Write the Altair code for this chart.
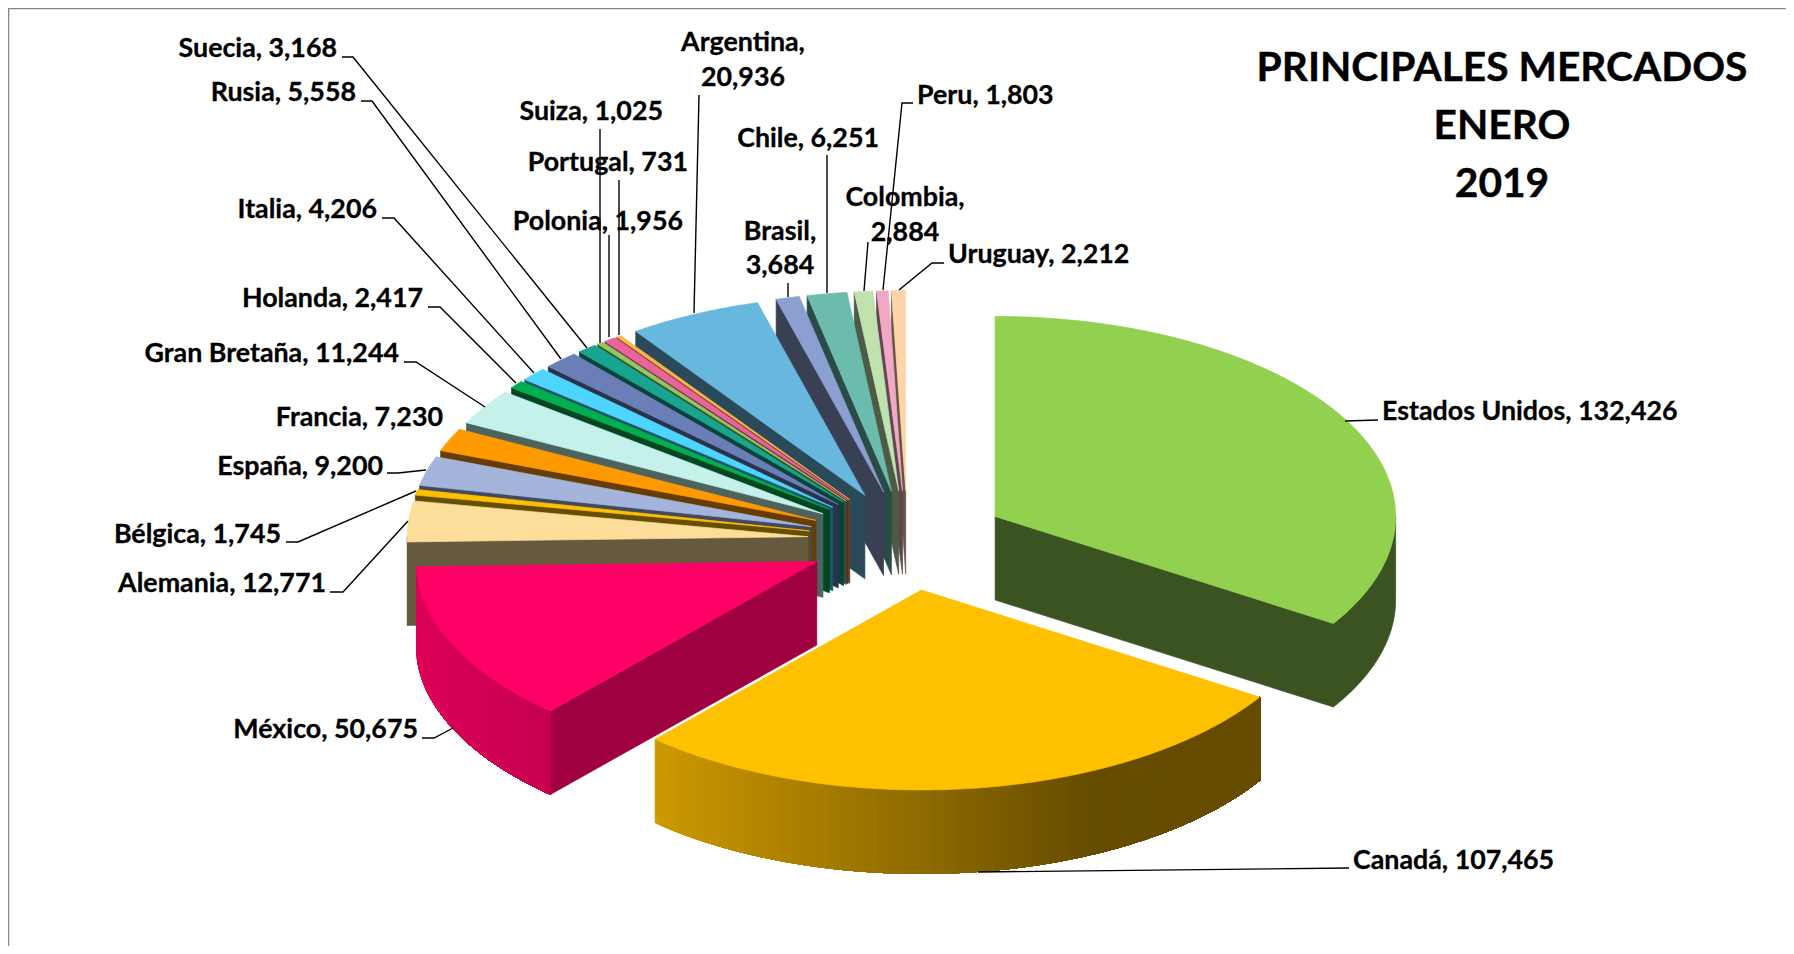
import math
import altair as alt
import pandas as pd

countries = ["Estados Unidos", "Canadá", "México", "Alemania", "Bélgica", "España", "Francia",
             "Gran Bretaña", "Holanda", "Italia", "Rusia", "Suecia", "Suiza", "Polonia",
             "Portugal", "Argentina", "Brasil", "Chile", "Colombia", "Peru", "Uruguay"]
values = [132426, 107465, 50675, 12771, 1745, 9200, 7230, 11244, 2417, 4206, 5558, 3168,
          1025, 1956, 731, 20936, 3684, 6251, 2884, 1803, 2212]
top_colors = ["#92D050", "#FFC000", "#FF0066", "#FCDE9A", "#FFC000", "#A5B4DB", "#FF9900",
              "#C4F2EB", "#00B050", "#4DD5FF", "#6A7FB8", "#17A590", "#92C864", "#E9649A",
              "#FFB14D", "#68B7DE", "#8C9FD1", "#6CBCAE", "#C0E2AE", "#EFA9C4", "#FDD5A8"]
wall_colors = ["#3B5321", "#664C00", "#9E0040", "#665A3E", "#664D00", "#424A60", "#663D00",
               "#4E625E", "#004620", "#1F5566", "#2A3349", "#09423A", "#3A5028", "#5D283D",
               "#664620", "#2A4A5A", "#3A4054", "#2B4B46", "#4D5A46", "#60444F", "#655544"]
# outer-wall gradients: (left colour, right colour, left x, right x)
wall_gradients = {"Canadá": ("#CC9900", "#664C00", 655, 1090),
                  "México": ("#DC0058", "#C60050", 416, 550)}

# label text lines: (text, align, x, baseline y)
labels = [
    ("Suecia, 3,168", "right", 337, 57), ("Rusia, 5,558", "right", 356, 101),
    ("Italia, 4,206", "right", 377, 218), ("Holanda, 2,417", "right", 423, 307),
    ("Gran Bretaña, 11,244", "right", 399, 362), ("Francia, 7,230", "right", 443, 426),
    ("España, 9,200", "right", 383, 475), ("Bélgica, 1,745", "right", 281, 543),
    ("Alemania, 12,771", "right", 326, 592), ("México, 50,675", "right", 418, 738),
    ("Canadá, 107,465", "left", 1353, 869), ("Estados Unidos, 132,426", "left", 1382, 420),
    ("Argentina,", "center", 743, 51), ("20,936", "center", 743, 86),
    ("Suiza, 1,025", "right", 663, 120), ("Portugal, 731", "right", 688, 171),
    ("Polonia, 1,956", "right", 683, 230), ("Chile, 6,251", "right", 879, 147),
    ("Brasil,", "center", 780, 240), ("3,684", "center", 780, 274),
    ("Colombia,", "center", 905, 206), ("2,884", "center", 905, 241),
    ("Peru, 1,803", "left", 917, 104), ("Uruguay, 2,212", "left", 948, 263),
]
title_lines = [("PRINCIPALES MERCADOS", 81), ("ENERO", 139), ("2019", 197)]
title_x = 1502

# leader polylines from each label to its slice
leaders = {
    "Suecia": [(342, 57), (353, 57), (587, 348)],
    "Rusia": [(361, 101), (372, 101), (561, 359)],
    "Italia": [(382, 218), (394, 218), (534, 373)],
    "Holanda": [(428, 307), (440, 307), (516, 383)],
    "Gran Bretaña": [(404, 362), (416, 362), (485, 407)],
    "España": [(387, 473), (398, 473), (426, 470)],
    "Bélgica": [(286, 542), (298, 542), (416, 491)],
    "Alemania": [(330, 592), (343, 592), (408, 521)],
    "México": [(422, 738), (434, 738), (453, 728)],
    "Canadá": [(1349, 868), (978, 872)],
    "Estados Unidos": [(1378, 420), (1345, 421)],
    "Argentina": [(699, 95), (694, 313)],
    "Suiza": [(600, 129), (600, 343)],
    "Polonia": [(609, 235), (609, 337)],
    "Portugal": [(619, 180), (619, 335)],
    "Chile": [(827, 155), (827, 293)],
    "Brasil": [(788, 283), (788, 297)],
    "Colombia": [(868, 242), (864, 291)],
    "Peru": [(913, 103), (902, 103), (883, 290)],
    "Uruguay": [(944, 263), (932, 263), (899, 290)],
}
border = {"top": [(8, 8.5), (1786, 8.5)], "left": [(8.5, 8), (8.5, 946)]}

# pie geometry (page pixels): ellipse, explosion and depth
CX, CY, RX, RY, EXPLODE, DEPTH = 907.5, 540.5, 400.5, 200, 100, 83.5
W, H = 1778, 938


def pt(ax, ay, deg):
    r = math.radians(deg)
    return (ax + RX * math.sin(r), ay - RY * math.cos(r))


def arc(ax, ay, a, b):
    n = max(2, int(abs(b - a) * 1.5) + 1)
    return [pt(ax, ay, a + (b - a) * i / (n - 1)) for i in range(n)]


def hex_mix(c1, c2, t):
    t = max(0.0, min(1.0, t))
    p = [int(c1[i:i + 2], 16) for i in (1, 3, 5)]
    q = [int(c2[i:i + 2], 16) for i in (1, 3, 5)]
    return "#%02X%02X%02X" % tuple(round(u + (v - u) * t) for u, v in zip(p, q))


def poly(points, fill):
    ring = [list(p) for p in points] + [list(points[0])]
    return {"type": "Feature", "properties": {}, "fill": fill,
            "geometry": {"type": "Polygon", "coordinates": [ring]}}


total = sum(values)
slices = []
start = 0.0
for i, v in enumerate(values):
    end = start + 360.0 * v / total
    slices.append((i, start, end))
    start = end

features = []
for i, a, b in sorted(slices, key=lambda s: -math.cos(math.radians((s[1] + s[2]) / 2))):
    mid = math.radians((a + b) / 2)
    ax = CX + EXPLODE * math.sin(mid)
    ay = CY - EXPLODE * math.cos(mid) * RY / RX
    wall = wall_colors[i]
    # radial walls facing the viewer
    if 180 < a < 360:
        p = pt(ax, ay, a)
        features.append(poly([(ax, ay), p, (p[0], p[1] + DEPTH), (ax, ay + DEPTH)], wall))
    if 0 < b < 180:
        p = pt(ax, ay, b)
        features.append(poly([(ax, ay), p, (p[0], p[1] + DEPTH), (ax, ay + DEPTH)], wall))
    # outer wall on the front half of the ellipse
    lo, hi = max(a, 90), min(b, 270)
    if hi > lo:
        pts = arc(ax, ay, lo, hi)
        grad = wall_gradients.get(countries[i])
        if grad:
            # overlapping bands, each painted over the previous one, so no seams show
            c1, c2, x1, x2 = grad
            ordered = sorted(pts, key=lambda q: q[0])
            for k in range(0, len(ordered) - 1):
                band = ordered[k:]
                t = (band[0][0] - x1) / (x2 - x1)
                features.append(poly(band + [(x, y + DEPTH) for x, y in reversed(band)],
                                     hex_mix(c1, c2, t)))
        else:
            features.append(poly(pts + [(x, y + DEPTH) for x, y in reversed(pts)], wall))
    # top surface
    features.append(poly([(ax, ay)] + arc(ax, ay, a, b), top_colors[i]))

x_scale = alt.Scale(domain=[8, 8 + W], range=[0, W], nice=False, zero=False)
y_scale = alt.Scale(domain=[8, 8 + H], range=[0, H], nice=False, zero=False)
x_enc = alt.X("x:Q", scale=x_scale, axis=None)
y_enc = alt.Y("y:Q", scale=y_scale, axis=None)

pie = alt.Chart(alt.Data(values=features)).mark_geoshape(strokeWidth=0.7).encode(
    fill=alt.Fill("fill:N", scale=None, legend=None),
    stroke=alt.Stroke("fill:N", scale=None, legend=None),
).project(type="identity", reflectY=False, scale=1, translate=[-8, -8])


def polylines(groups):
    return pd.DataFrame([{"id": k, "seq": j, "x": p[0], "y": p[1]}
                         for k, pts in groups.items() for j, p in enumerate(pts)])


frame = alt.Chart(polylines(border)).mark_line(color="#868686", strokeWidth=1.5).encode(
    x=x_enc, y=y_enc, detail="id:N", order="seq:Q")
leader_layer = alt.Chart(polylines(leaders)).mark_line(color="black", strokeWidth=1.4).encode(
    x=x_enc, y=y_enc, detail="id:N", order="seq:Q")

FONT, LABEL_SIZE, TITLE_SIZE = "Lato", 26.8, 40.7
text_layers = []
for align in ("right", "left", "center"):
    rows = pd.DataFrame([{"t": t, "x": x, "y": y} for t, al, x, y in labels if al == align])
    text_layers.append(alt.Chart(rows).mark_text(
        align=align, baseline="alphabetic", font=FONT, fontWeight="bold",
        fontSize=LABEL_SIZE, color="black", stroke="black", strokeWidth=0.3).encode(
        x=x_enc, y=y_enc, text="t:N"))
title_rows = pd.DataFrame([{"t": t, "x": title_x, "y": y} for t, y in title_lines])
title_layer = alt.Chart(title_rows).mark_text(
    align="center", baseline="alphabetic", font=FONT, fontWeight="bold",
    fontSize=TITLE_SIZE, color="black", stroke="black", strokeWidth=0.4).encode(
    x=x_enc, y=y_enc, text="t:N")

chart = alt.layer(pie, frame, leader_layer, *text_layers, title_layer).properties(
    width=W, height=H, padding=0, background="white",
    autosize=alt.AutoSizeParams(type="none"),
).configure_view(stroke=None)

chart.save("out.html", embed_options={"renderer": "svg", "actions": False})
